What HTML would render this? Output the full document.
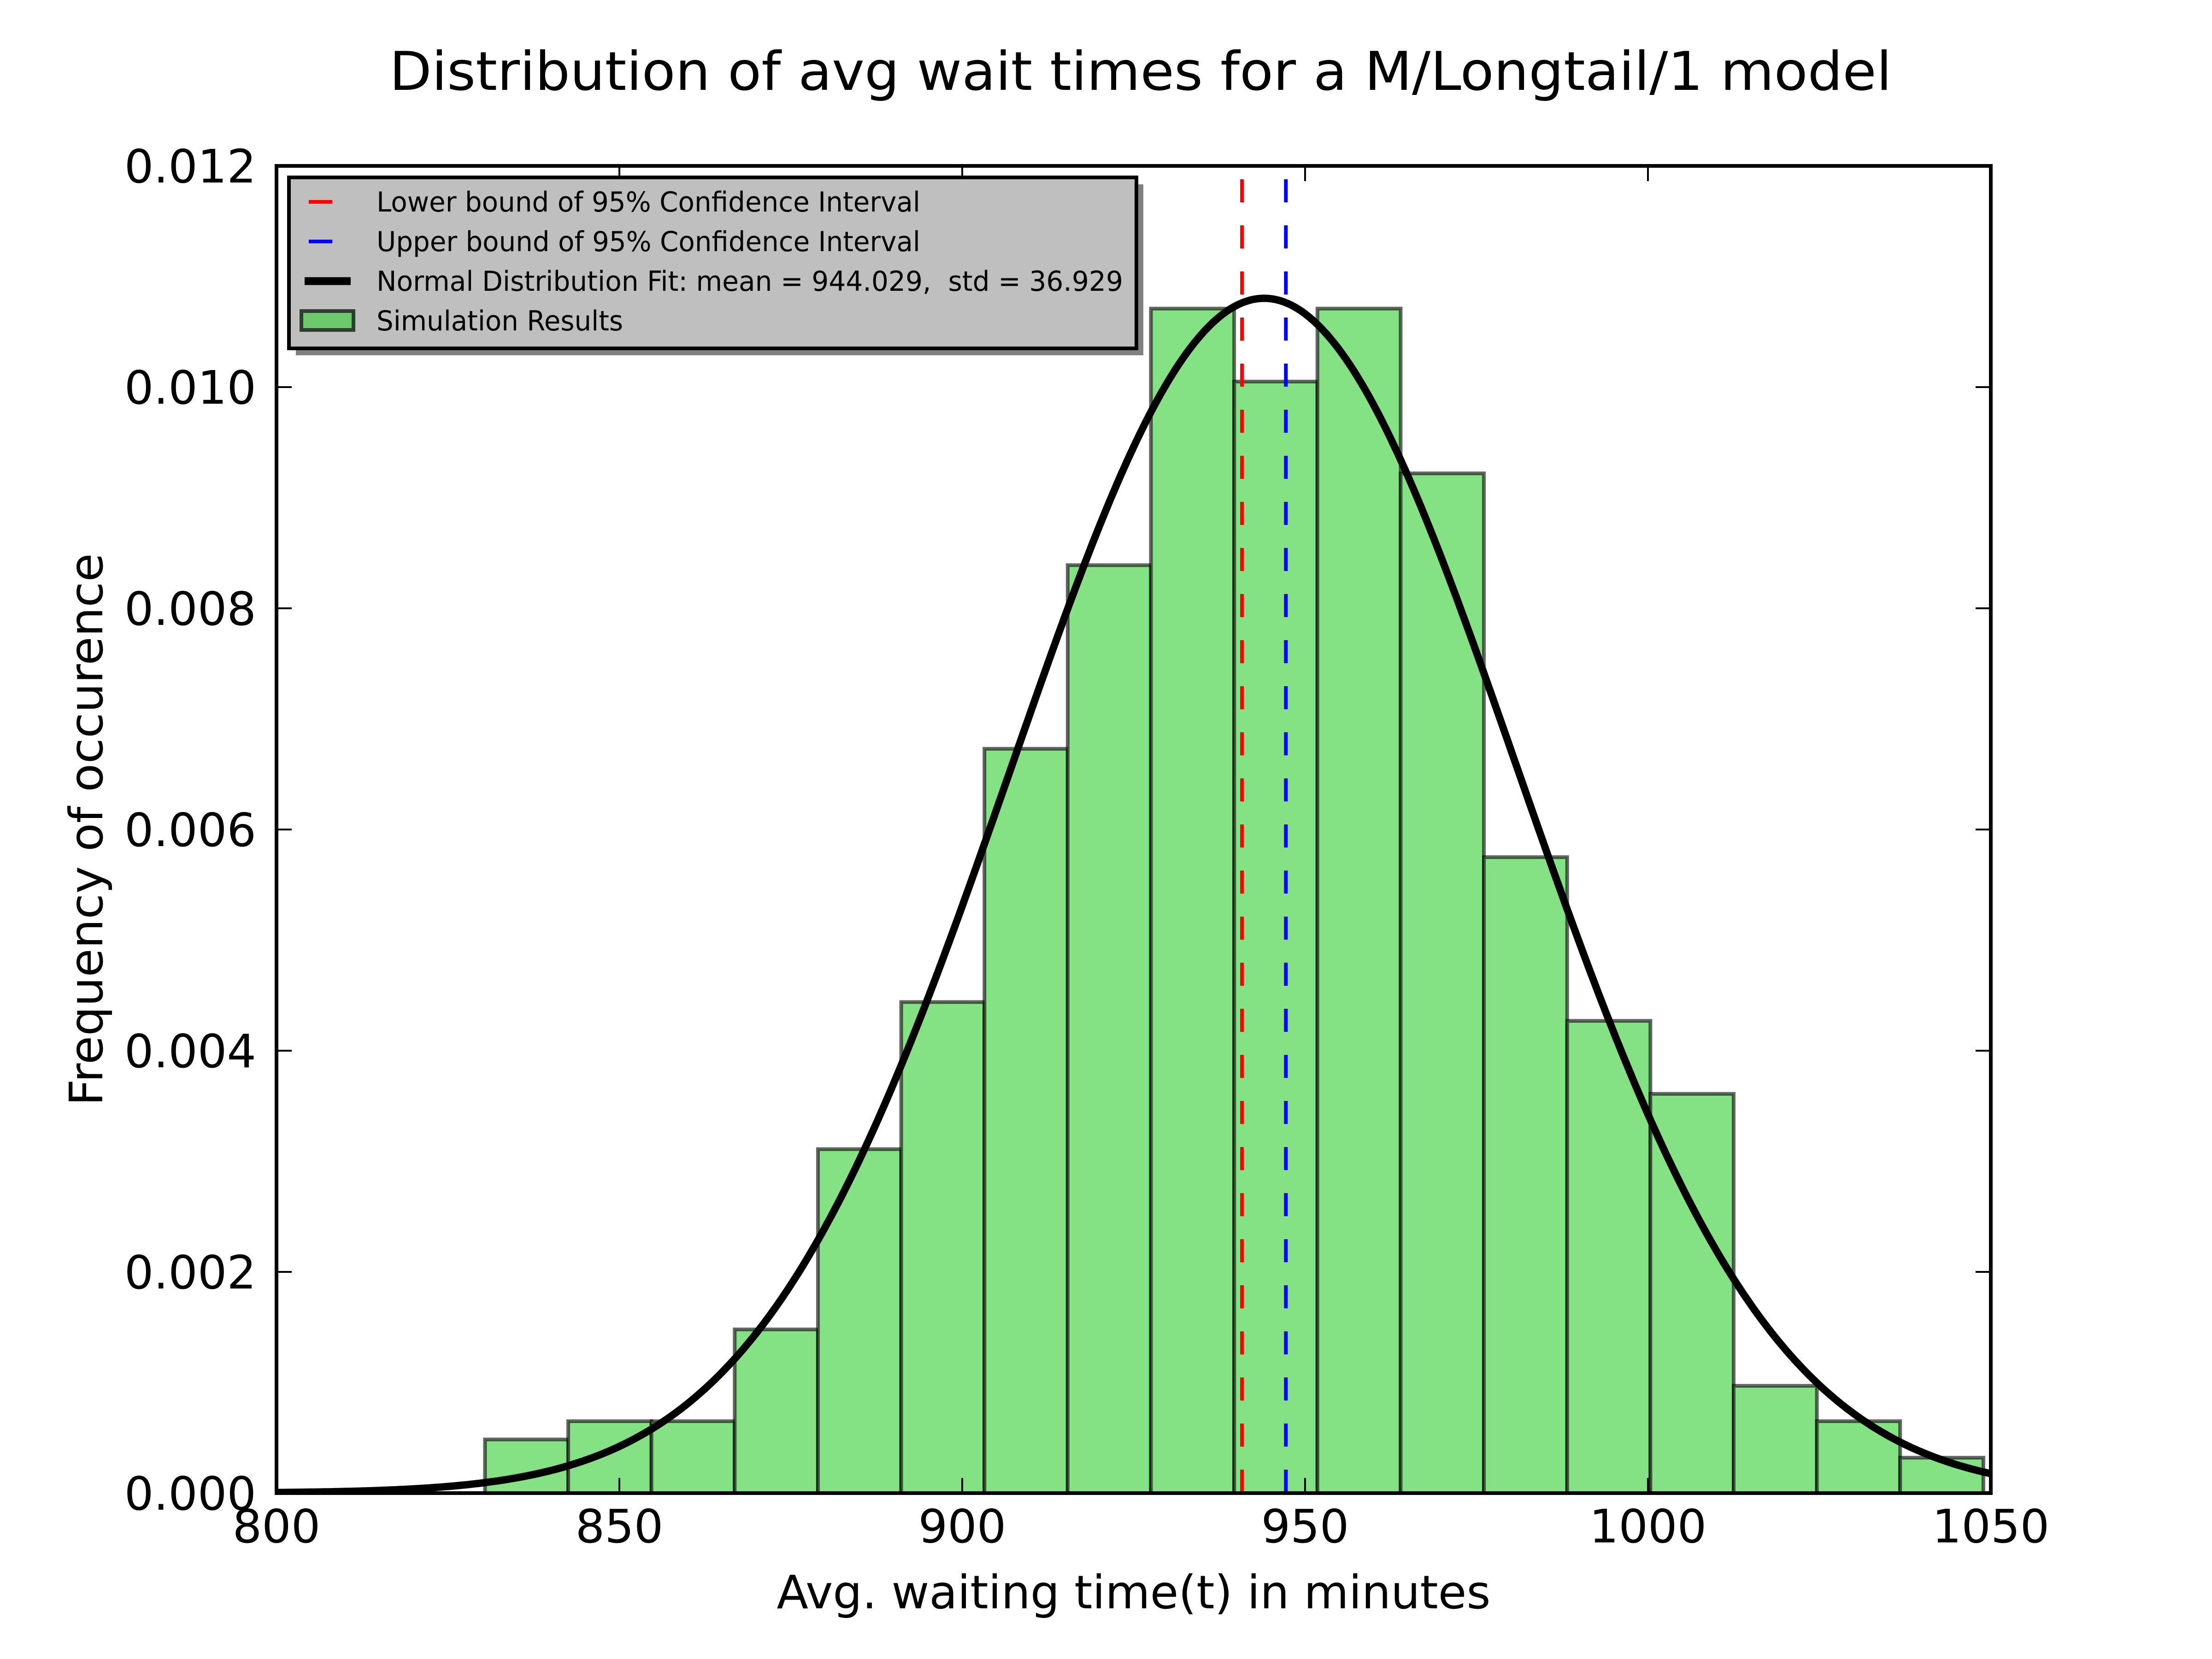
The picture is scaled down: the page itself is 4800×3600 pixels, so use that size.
<!DOCTYPE html>
<html><head><meta charset="utf-8"><style>
html,body{margin:0;padding:0;background:#fff}
svg{display:block}
text{font-family:"DejaVu Sans","Liberation Sans",sans-serif;fill:#000}
</style></head><body>
<svg id="chart" xmlns="http://www.w3.org/2000/svg" width="4800" height="3600" viewBox="0 0 4800 3600">
<rect x="0" y="0" width="4800" height="3600" fill="#fff"/>
<text x="2475" y="195" font-size="116" text-anchor="middle" textLength="3260" lengthAdjust="spacingAndGlyphs">Distribution of avg wait times for a M/Longtail/1 model</text>
<g id="plot"></g>
<g id="ticks"></g>
<rect x="600" y="360" width="3720" height="2880" fill="none" stroke="#000" stroke-width="8"/>
<text x="2460" y="3490" font-size="100" text-anchor="middle" textLength="1549" lengthAdjust="spacingAndGlyphs">Avg. waiting time(t) in minutes</text>
<text transform="translate(222,1800) rotate(-90)" font-size="100" text-anchor="middle" textLength="1199" lengthAdjust="spacingAndGlyphs">Frequency of occurence</text>
<g>
<rect x="642" y="400" width="1839" height="371" fill="#808080"/>
<rect x="627" y="385" width="1839" height="371" fill="#bfbfbf" stroke="#000" stroke-width="8"/>
<line x1="670" y1="438" x2="721" y2="438" stroke="#f00" stroke-width="8"/>
<text x="817" y="459" font-size="60" textLength="1180" lengthAdjust="spacingAndGlyphs">Lower bound of 95% Confidence Interval</text>
<line x1="670" y1="524" x2="721" y2="524" stroke="#00f" stroke-width="8"/>
<text x="817" y="545" font-size="60" textLength="1180" lengthAdjust="spacingAndGlyphs">Upper bound of 95% Confidence Interval</text>
<line x1="661" y1="610" x2="761" y2="610" stroke="#000" stroke-width="17"/>
<text x="817" y="631" font-size="60" xml:space="preserve" textLength="1620" lengthAdjust="spacingAndGlyphs">Normal Distribution Fit: mean = 944.029,  std = 36.929</text>
<rect x="654" y="675" width="113" height="41" fill="#6cca6c" stroke="#2e3e2e" stroke-width="8"/>
<text x="817" y="717" font-size="60" textLength="535" lengthAdjust="spacingAndGlyphs">Simulation Results</text>
</g>
</svg>
<script>
const binStart = [830.4];
const binWidth = [12.14];
const barHeights = [0.000485,0.00065,0.00065,0.00148,0.00311,0.00444,0.00673,0.00839,0.01071,0.01005,0.01071,0.00922,0.00575,0.00427,0.00361,0.00097,0.00065,0.00032];
const fitMean = [944.029];
const fitStd = [36.929];
const ciBounds = [940.8, 947.2];
const xTicks = [800,850,900,950,1000,1050];
const yTicks = [0,0.002,0.004,0.006,0.008,0.010,0.012];
const yTickLabels = ["0.000","0.002","0.004","0.006","0.008","0.010","0.012"];

const NS="http://www.w3.org/2000/svg";
const X0=600,X1=4320,Y0=3240,Y1=360, xmin=800,xmax=1050,ymin=0,ymax=0.012;
function sx(v){return X0+(v-xmin)/(xmax-xmin)*(X1-X0);}
function sy(v){return Y0-(v-ymin)/(ymax-ymin)*(Y0-Y1);}
function mk(tag,attrs,parent){const e=document.createElementNS(NS,tag);for(const k in attrs)e.setAttribute(k,attrs[k]);parent.appendChild(e);return e;}
const plot=document.getElementById('plot');
const ticks=document.getElementById('ticks');
const defs=mk('defs',{},plot);
const cp=mk('clipPath',{id:'clip'},defs);
mk('rect',{x:X0,y:Y1,width:X1-X0,height:Y0-Y1},cp);
const g=mk('g',{'clip-path':'url(#clip)'},plot);

barHeights.forEach((h,i)=>{
  const a=binStart[0]+i*binWidth[0], b=a+binWidth[0];
  const r=mk('rect',{x:sx(a),y:sy(h),width:sx(b)-sx(a),height:sy(0)-sy(h),fill:'#84e184',stroke:'rgba(0,0,0,0.6)','stroke-width':8},g);
  
  
});

const ciColors=['#f00','#00f'];
ciBounds.forEach((v,i)=>{
  const l=mk('line',{x1:sx(v),x2:sx(v),y1:Y1,y2:Y0,stroke:ciColors[i],'stroke-width':8,'stroke-dasharray':'50 50','stroke-dashoffset':71},g);
  
  
});

let d='';
for(let k=0;k<=500;k++){
  const x=xmin+(xmax-xmin)*k/500;
  const y=Math.exp(-0.5*Math.pow((x-fitMean[0])/fitStd[0],2))/(fitStd[0]*Math.sqrt(2*Math.PI));
  d+=(k?'L':'M')+sx(x).toFixed(1)+','+sy(y).toFixed(1);
}
const p=mk('path',{d:d,fill:'none',stroke:'#000','stroke-width':16,'stroke-linejoin':'round'},g);



xTicks.forEach(v=>{
  const x=sx(v);
  const t1=mk('line',{x1:x,x2:x,y1:Y0,y2:Y0-33,stroke:'#000','stroke-width':4},ticks);
  
  
  const t2=mk('line',{x1:x,x2:x,y1:Y1,y2:Y1+33,stroke:'#000','stroke-width':4},ticks);
  
  
  const tx=mk('text',{x:x,y:3347,'font-size':100,'text-anchor':'middle'},ticks);
  tx.textContent=String(v);
  
  
});
yTicks.forEach((v,i)=>{
  const y=sy(v);
  const t1=mk('line',{x1:X0,x2:X0+33,y1:y,y2:y,stroke:'#000','stroke-width':4},ticks);
  
  
  const t2=mk('line',{x1:X1,x2:X1-33,y1:y,y2:y,stroke:'#000','stroke-width':4},ticks);
  
  
  const tx=mk('text',{x:556,y:y+36,'font-size':100,'text-anchor':'end'},ticks);
  tx.textContent=yTickLabels[i];
  
  
});
</script>
</body></html>
